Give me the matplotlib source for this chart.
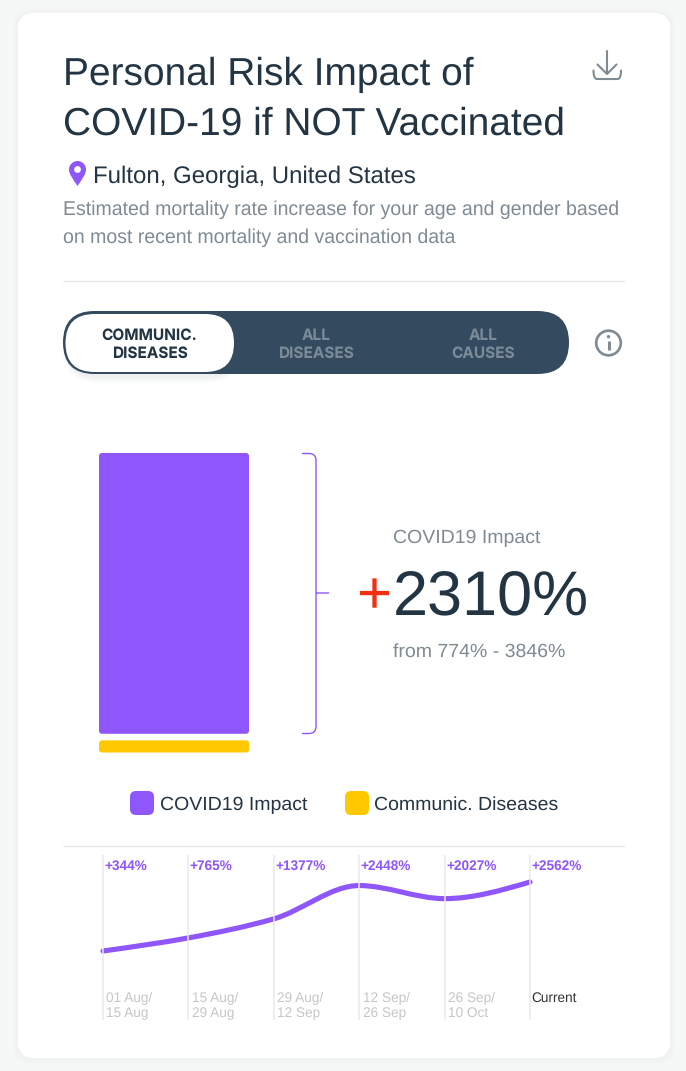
import numpy as np
import matplotlib
matplotlib.use("Agg")
import matplotlib.pyplot as plt
from matplotlib.patches import FancyBboxPatch, PathPatch, Circle
from matplotlib.path import Path

plt.rcParams['font.family'] = ['Liberation Sans', 'DejaVu Sans']
plt.rcParams['text.hinting'] = 'no_hinting'

# ---- data ----
bar_categories = ["Communic. Diseases", "COVID19 Impact"]
base_value = 100
impact_value = 2310
trend_values = [344, 765, 1377, 2448, 2027, 2562]
trend_labels = ["+344%", "+765%", "+1377%", "+2448%", "+2027%", "+2562%"]
period_labels = ["01 Aug/\n15 Aug", "15 Aug/\n29 Aug", "29 Aug/\n12 Sep",
                 "12 Sep/\n26 Sep", "26 Sep/\n10 Oct", "Current"]
toggle_labels = ["COMMUNIC.\nDISEASES", "ALL\nDISEASES", "ALL\nCAUSES"]

W, H = 686, 1071
PURPLE = "#8f57fb"
YELLOW = "#ffc800"
DARK = "#233443"
GREY = "#7f8b93"
TOGGLE = "#344a5e"

fig = plt.figure(figsize=(W / 100, H / 100), dpi=100, facecolor="#f6f8f8")
px = lambda v: v * 0.72


def axes_px(x0, y0, x1, y1, **kw):
    return fig.add_axes([x0 / W, 1 - y1 / H, (x1 - x0) / W, (y1 - y0) / H], **kw)


bg = axes_px(0, 0, W, H)
bg.set_xlim(0, W)
bg.set_ylim(H, 0)
bg.axis("off")


def rrect(x0, y0, x1, y1, r, **kw):
    p = FancyBboxPatch((x0 + r, y0 + r), x1 - x0 - 2 * r, y1 - y0 - 2 * r,
                       boxstyle=f"round,pad={r},rounding_size={r}", **kw)
    bg.add_patch(p)
    return p


def label(x, y, s, size, color, **kw):
    return bg.text(x, y, s, fontsize=px(size), color=color, va="baseline", **kw)


# card with soft shadow (opaque steps avoid 8-bit colour tinting)
for i, c in zip(range(6, 0, -1), ["#f5f7f7", "#f4f6f6", "#f3f5f5", "#f2f4f4", "#f1f3f3", "#f0f2f2"]):
    rrect(18 - i, 13 - i + 1, 670 + i, 1058 + i + 1, 16 + i, fc=c, ec="none")
rrect(18, 13, 670, 1058, 16, fc="white", ec="none")

# heading
label(63, 85, "Personal Risk Impact of", 38.95, DARK)
label(63, 135, "COVID-19 if NOT Vaccinated", 38.95, DARK)
label(93, 183, "Fulton, Georgia, United States", 23.95, DARK)
label(63, 215, "Estimated mortality rate increase for your age and gender based", 19.55, GREY)
label(63, 243, "on most recent mortality and vaccination data", 19.55, GREY)

# location pin
pin = Path([(77.5, 186), (73, 179), (69, 174.5), (69, 169.5), (69, 164.8), (72.8, 161), (77.5, 161),
            (82.2, 161), (86, 164.8), (86, 169.5), (86, 174.5), (82, 179), (77.5, 186), (77.5, 186)],
           [Path.MOVETO, Path.CURVE4, Path.CURVE4, Path.CURVE4, Path.CURVE4, Path.CURVE4, Path.CURVE4,
            Path.CURVE4, Path.CURVE4, Path.CURVE4, Path.CURVE4, Path.CURVE4, Path.CURVE4, Path.CLOSEPOLY])
bg.add_patch(PathPatch(pin, fc=PURPLE, ec="none"))
bg.add_patch(Circle((77.5, 169.5), 3.4, fc="white", ec="none"))

# download icon
bg.plot([607, 607], [50.5, 73], color=GREY, lw=1.5, solid_capstyle="round")
bg.plot([597.5, 607, 616.5], [64.5, 74, 64.5], color=GREY, lw=1.5, solid_capstyle="round",
        solid_joinstyle="round")
bg.add_patch(PathPatch(Path([(593.5, 70.5), (593.5, 79), (597, 79), (617.5, 79), (621, 79), (621, 70.5)],
                            [Path.MOVETO, Path.CURVE3, Path.CURVE3, Path.LINETO, Path.CURVE3, Path.CURVE3]),
                       fc="none", ec=GREY, lw=1.5, capstyle="round"))

# separators
bg.plot([63, 625], [281, 281], color="#e6e8ea", lw=1, solid_capstyle="butt")
bg.plot([63, 625], [846, 846], color="#e6e8ea", lw=1, solid_capstyle="butt")

# toggle
for i, c in zip(range(6, 0, -1), ["#fcfcfd", "#fafbfb", "#f8f9fa", "#f5f6f7", "#f2f3f5", "#eef0f2"]):
    rrect(68 - i, 316 - i, 236 + i, 377 + i, 30 + i, fc=c, ec="none")
rrect(63, 311, 569, 374, 31.5, fc=TOGGLE, ec="none")
rrect(65.5, 314, 234, 372, 29, fc="white", ec="none")
for cx, s, col in zip([149.5, 316, 483], toggle_labels, [DARK, "#7a8a98", "#7a8a98"]):
    l1, l2 = s.split("\n")
    for y, t in ((340, l1), (358, l2)):
        bg.text(cx, y, t, fontsize=px(15.4), color=col, ha="center", va="baseline",
                fontweight="bold", fontfamily=["Inter", "Liberation Sans"])

# info icon
bg.add_patch(Circle((608.5, 343), 12.3, fc="none", ec=GREY, lw=1.9))
bg.add_patch(Circle((608.5, 336.7), 1.7, fc=GREY, ec="none"))
bg.plot([608.5, 608.5], [341, 350], color=GREY, lw=2.2, solid_capstyle="butt")

# bars: yellow base with the purple impact above it, corners rounded by a clip box
bar_ax = axes_px(99, 453, 249, 752.5)
bar_ax.patch.set_alpha(0)
bar_ax.axis("off")
gap = 54
total = base_value + gap + impact_value
bar_ax.set_xlim(-0.5, 0.5)
bar_ax.set_ylim(0, total)
aspect = total / 299.5 * 150  # y units per x unit on screen
low = bar_ax.bar(0, base_value, width=1, color=YELLOW, lw=0)[0]
high = bar_ax.bar(0, impact_value, width=1, bottom=base_value + gap, color=PURPLE, lw=0)[0]
for b in (low, high):
    clip = FancyBboxPatch((b.get_x(), b.get_y()), b.get_width(), b.get_height(),
                          boxstyle="round,pad=0,rounding_size=0.02", mutation_aspect=aspect,
                          transform=bar_ax.transData)
    b.set_clip_path(clip)

# bracket
r = 7
br = Path([(302, 453.5), (316 - r, 453.5), (316, 453.5), (316, 453.5 + r), (316, 733.5 - r),
           (316, 733.5), (316 - r, 733.5), (302, 733.5), (316, 593), (329, 593)],
          [Path.MOVETO, Path.LINETO, Path.CURVE3, Path.CURVE3, Path.LINETO, Path.CURVE3, Path.CURVE3,
           Path.LINETO, Path.MOVETO, Path.LINETO])
bg.add_patch(PathPatch(br, fc="none", ec=PURPLE, lw=1.0))

# big number
label(393, 543, "COVID19 Impact", 19.5, GREY)
label(356, 613, "+", 60, "#f2300f")
label(393, 615.5, f"{impact_value}%", 63, DARK)
label(393, 657, "from 774% - 3846%", 19.5, GREY)

# legend
rrect(130, 791, 154, 815, 6, fc=PURPLE, ec="none")
label(160, 810, bar_categories[1], 19.5, DARK)
rrect(345, 791, 369, 815, 6, fc=YELLOW, ec="none")
label(374, 810, bar_categories[0], 19.5, DARK)

# trend chart
tr = axes_px(103, 855, 530, 1020)
tr.patch.set_alpha(0)
tr.axis("off")
tr.set_xlim(0, len(trend_values) - 1)
# 951 px at 344 and 882 px at 2562
scale = (2562 - 344) / (951 - 882)
tr.set_ylim(344 - (1020 - 951) * scale, 344 + (951 - 855) * scale)
xs = np.arange(len(trend_values))
ys = np.array(trend_values, dtype=float)
tr.vlines(xs, *tr.get_ylim(), color="#e9e9ec", lw=1.1, clip_on=False)

# monotone cubic tangents -> bezier segments through the values
d = np.diff(ys)
m = np.zeros_like(ys)
for i in range(1, len(ys) - 1):
    m[i] = 0 if d[i - 1] * d[i] <= 0 else 2 * d[i - 1] * d[i] / (d[i - 1] + d[i])
m[0] = (3 * d[0] - m[1]) / 2
m[-1] = (3 * d[-1] - m[-2]) / 2
verts, codes = [(xs[0], ys[0])], [Path.MOVETO]
for i in range(len(d)):
    verts += [(xs[i] + 1 / 3, ys[i] + m[i] / 3), (xs[i + 1] - 1 / 3, ys[i + 1] - m[i + 1] / 3),
              (xs[i + 1], ys[i + 1])]
    codes += [Path.CURVE4] * 3
tr.add_patch(PathPatch(Path(verts, codes), fc="none", ec=PURPLE, lw=3.7, capstyle="round",
                       clip_on=False))

xpx = 103 + xs * (530 - 103) / 5
for x, t, p in zip(xpx, trend_labels, period_labels):
    label(x + 1.4, 870, t, 13.6, PURPLE, fontweight="bold")
    lines = p.split("\n")
    col = "#333333" if len(lines) == 1 else "#c6c6c6"
    for y, s in zip((1002, 1017), lines):
        label(x + (1.7 if len(lines) == 1 else 3.5), y, s, 13.6, col)

fig.savefig("out.png", dpi=100, facecolor=fig.get_facecolor())
